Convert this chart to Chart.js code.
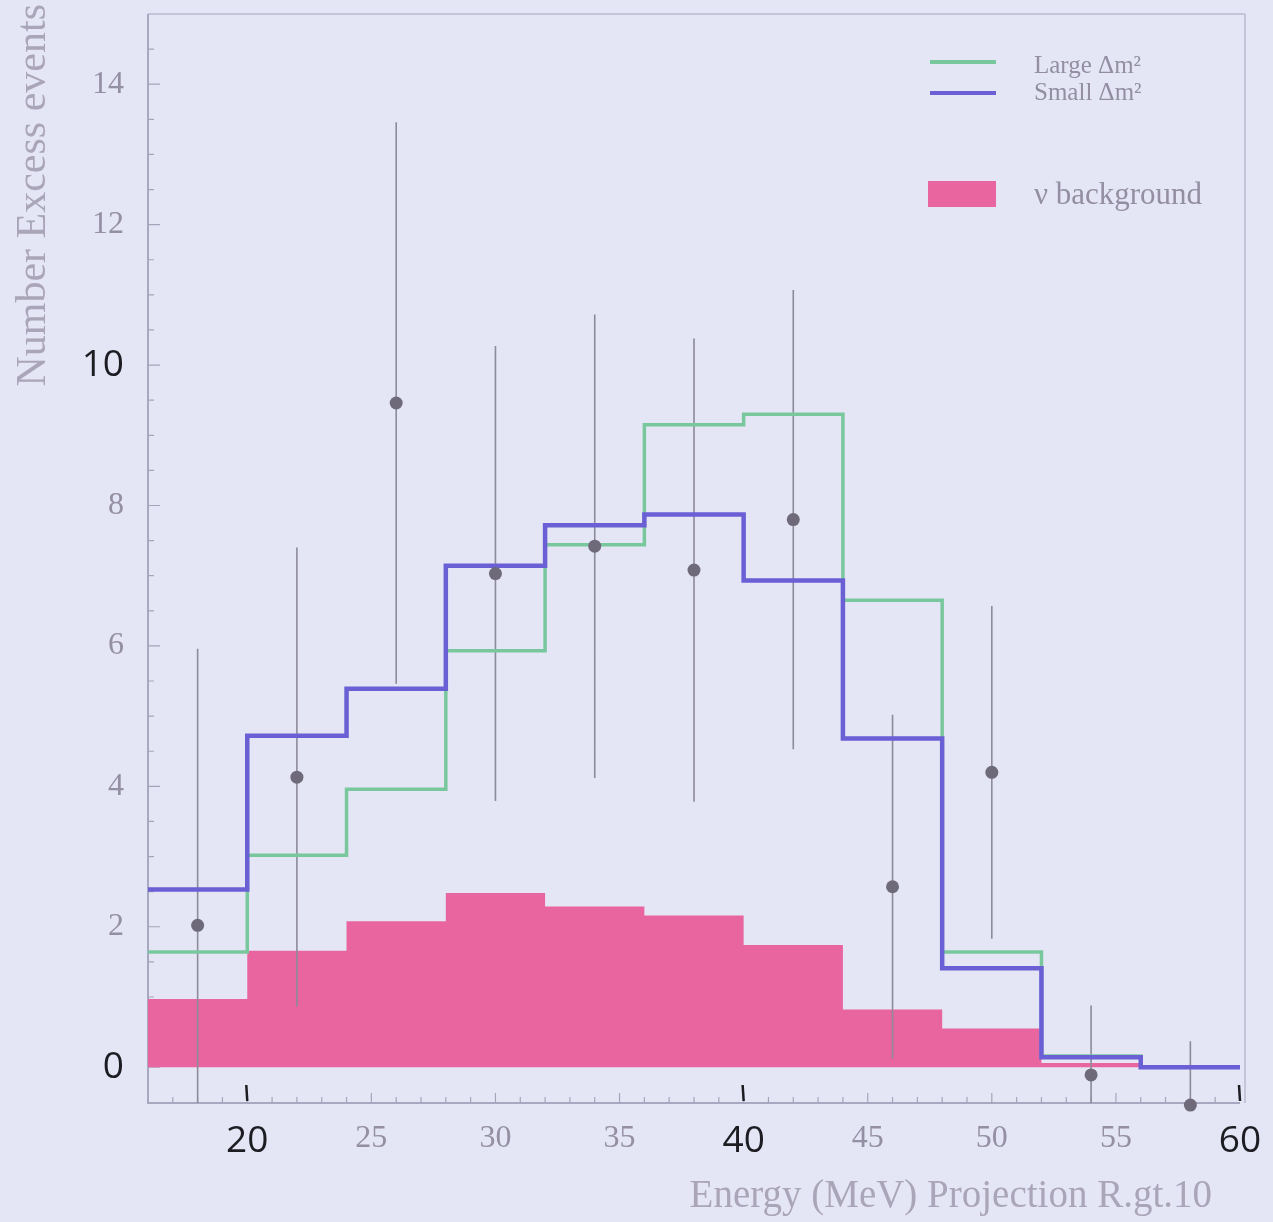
<!DOCTYPE html>
<html>
<head>
<meta charset="utf-8">
<script src="https://cdn.jsdelivr.net/npm/chart.js@4.4.0/dist/chart.umd.min.js"></script>
<style>
  html, body { margin: 0; padding: 0; background: #e4e6f5; }
  #wrap { width: 1273px; height: 1222px; position: relative; }
</style>
</head>
<body>
<div id="wrap"><canvas id="c" width="1273" height="1222"></canvas></div>
<script>
// ---- data ----
const binEdges = [16, 20, 24, 28, 32, 36, 40, 44, 48, 52, 56, 60];
const largeDm2 = [1.64, 3.02, 3.96, 5.93, 7.44, 9.15, 9.30, 6.65, 1.64, 0.16, 0.00];
const smallDm2 = [2.53, 4.72, 5.39, 7.14, 7.72, 7.87, 6.93, 4.68, 1.41, 0.14, 0.00];
const nuBackground = [0.97, 1.66, 2.08, 2.48, 2.29, 2.16, 1.74, 0.82, 0.55, 0.06, 0.00];
const binCenters = [18, 22, 26, 30, 34, 38, 42, 46, 50, 54, 58];
const excessEvents = [2.02, 4.13, 9.46, 7.03, 7.42, 7.08, 7.80, 2.57, 4.20, -0.11, -0.54];
const excessErrors = [3.94, 3.27, 4.00, 3.24, 3.30, 3.30, 3.27, 2.45, 2.37, 0.99, 0.91];
const xTickValues = [20, 25, 30, 35, 40, 45, 50, 55, 60];
const yTickValues = [0, 2, 4, 6, 8, 10, 12, 14];
const handwrittenX = [20, 40, 60];
const handwrittenY = [0, 10];
const legendLabels = ['Large \u0394m\u00b2', 'Small \u0394m\u00b2', '\u03bd background'];
const xTitle = 'Energy (MeV) Projection R.gt.10';
const yTitle = 'Number Excess events';

// ---- styling ----
const GREEN = '#79c79d';
const BLUE = '#6a5fd4';
const PINK = '#e9659f';
const POINT = '#6f6a7a';
const ERR = '#8d8a9a';
const GRAYTXT = '#958fa3';
const INK = '#1c1c22';
const FONT_HAND = { family: '"Open Sans"', size: 37, weight: 'normal' };
const FONT_PRINT = { family: '"Liberation Serif"', size: 32, weight: 'normal' };

function isHand(c, list) { return !!(c && c.tick && list.includes(c.tick.value)); }
function noPad(s) { s.paddingTop = 0; s.paddingBottom = 0; s.paddingLeft = 0; s.paddingRight = 0; }

function stepPoints(vals) {
  return binEdges.map((x, i) => ({ x: x, y: vals[Math.min(i, vals.length - 1)] }));
}
const errPts = [];
binCenters.forEach((c, i) => {
  errPts.push({ x: c, y: excessEvents[i] - excessErrors[i] });
  errPts.push({ x: c, y: excessEvents[i] + excessErrors[i] });
  errPts.push({ x: c, y: null });
});

const decor = {
  id: 'decor',
  beforeDatasetsDraw(chart) {
    const { ctx, chartArea: a, scales: { x, y } } = chart;
    ctx.save();
    ctx.strokeStyle = '#b9bace';
    ctx.lineWidth = 1.5;
    ctx.beginPath();
    ctx.moveTo(a.left, a.top); ctx.lineTo(a.right + 5, a.top);
    ctx.moveTo(a.right + 5, a.top); ctx.lineTo(a.right + 5, a.bottom);
    ctx.stroke();
    ctx.strokeStyle = '#a8a8c0';
    ctx.lineWidth = 2;
    ctx.beginPath();
    ctx.moveTo(a.left, a.top); ctx.lineTo(a.left, a.bottom);
    ctx.lineTo(a.right, a.bottom);
    ctx.stroke();
    ctx.lineWidth = 1.2;
    ctx.strokeStyle = '#a6a4bb';
    ctx.beginPath();
    for (let v = 17; v <= 59; v += 1) {
      const px = x.getPixelForValue(v);
      const len = v % 5 === 0 ? 10 : 6;
      ctx.moveTo(px, a.bottom); ctx.lineTo(px, a.bottom - len);
    }
    for (let v = 0; v <= 14.75; v += 0.5) {
      const py = y.getPixelForValue(v);
      const len = v % 2 === 0 ? 12 : 6;
      ctx.moveTo(a.left, py); ctx.lineTo(a.left + len, py);
    }
    ctx.stroke();
    ctx.strokeStyle = INK;
    ctx.lineWidth = 2.5;
    ctx.beginPath();
    handwrittenX.forEach(v => {
      const px = x.getPixelForValue(v);
      ctx.moveTo(px, a.bottom - 2); ctx.lineTo(px - 1, a.bottom - 18);
    });
    ctx.stroke();
    ctx.restore();
  },
  afterDraw(chart) {
    const { ctx } = chart;
    ctx.save();
    ctx.fillStyle = '#aaa5b8';
    ctx.font = '39px "Liberation Serif"';
    ctx.textBaseline = 'middle';
    ctx.textAlign = 'right';
    ctx.fillText(xTitle, 1212, 1197);
    ctx.font = '42px "Liberation Serif"';
    ctx.translate(34, 4);
    ctx.rotate(-Math.PI / 2);
    ctx.textAlign = 'right';
    ctx.fillText(yTitle, 0, 0);
    ctx.restore();
    ctx.save();
    ctx.lineWidth = 4;
    ctx.strokeStyle = GREEN;
    ctx.beginPath(); ctx.moveTo(930, 62); ctx.lineTo(996, 62); ctx.stroke();
    ctx.strokeStyle = BLUE;
    ctx.beginPath(); ctx.moveTo(930, 93); ctx.lineTo(996, 93); ctx.stroke();
    ctx.fillStyle = PINK;
    ctx.fillRect(928, 181, 68, 26);
    ctx.fillStyle = '#938ea2';
    ctx.textAlign = 'left';
    ctx.textBaseline = 'middle';
    ctx.font = '25px "Liberation Serif"';
    ctx.fillText(legendLabels[0], 1034, 66);
    ctx.fillText(legendLabels[1], 1034, 93);
    ctx.font = '31px "Liberation Serif"';
    ctx.fillText(legendLabels[2], 1034, 196);
    ctx.restore();
  }
};

new Chart(document.getElementById('c'), {
  type: 'scatter',
  data: {
    datasets: [
      {
        label: legendLabels[2], type: 'line', data: stepPoints(nuBackground),
        stepped: 'before', fill: 'origin', backgroundColor: PINK, borderColor: PINK,
        borderWidth: 0, pointRadius: 0, order: 5
      },
      {
        label: 'errors', type: 'line', data: errPts, spanGaps: false,
        borderColor: ERR, borderWidth: 1.6, pointRadius: 0, fill: false, order: 4
      },
      {
        label: legendLabels[0], type: 'line', data: stepPoints(largeDm2),
        stepped: 'before', fill: false, borderColor: GREEN, borderWidth: 3.5,
        pointRadius: 0, order: 3
      },
      {
        label: legendLabels[1], type: 'line', data: stepPoints(smallDm2),
        stepped: 'before', fill: false, borderColor: BLUE, borderWidth: 4.5,
        pointRadius: 0, order: 2
      },
      {
        label: 'data', type: 'scatter',
        data: binCenters.map((c, i) => ({ x: c, y: excessEvents[i] })),
        pointRadius: 6.5, pointBackgroundColor: POINT, pointBorderWidth: 0,
        clip: false, order: 1
      }
    ]
  },
  options: {
    responsive: false,
    animation: false,
    layout: { padding: { top: 14, right: 33, left: 0, bottom: 0 } },
    plugins: { legend: { display: false }, tooltip: { enabled: false } },
    scales: {
      x: {
        type: 'linear', min: 16, max: 60,
        grid: { display: false, drawTicks: false },
        border: { display: false },
        afterBuildTicks: s => { s.ticks = xTickValues.map(v => ({ value: v })); },
        afterFit: s => { s.height = 119; noPad(s); },
        ticks: {
          padding: 16,
          maxRotation: 0,
          autoSkip: false,
          color: c => isHand(c, handwrittenX) ? INK : GRAYTXT,
          font: c => isHand(c, handwrittenX) ? FONT_HAND : FONT_PRINT
        }
      },
      y: {
        type: 'linear', min: -0.51, max: 15,
        grid: { display: false, drawTicks: false },
        border: { display: false },
        afterBuildTicks: s => { s.ticks = yTickValues.map(v => ({ value: v })); },
        afterFit: s => { s.width = 148; noPad(s); },
        ticks: {
          padding: 24,
          autoSkip: false,
          color: c => isHand(c, handwrittenY) ? INK : GRAYTXT,
          font: c => isHand(c, handwrittenY) ? FONT_HAND : FONT_PRINT
        }
      }
    }
  },
  plugins: [decor]
});
</script>
</body>
</html>
